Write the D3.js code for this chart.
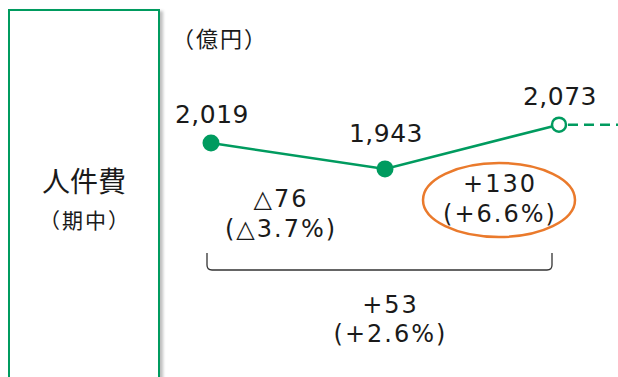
<!DOCTYPE html>
<html lang="ja">
<head>
<meta charset="utf-8">
<script src="https://cdn.jsdelivr.net/npm/d3@7"></script>
<style>
  html, body { margin: 0; padding: 0; background: #fff; }
  svg { display: block; }
  .num { font-family: "DejaVu Sans", sans-serif; fill: #1a1a1a; }
  .jp { font-family: "Noto Sans CJK JP", sans-serif; fill: #1a1a1a; }
</style>
</head>
<body>
<svg id="chart" width="618" height="377"></svg>
<script>
// Personnel expenses (100 million yen), three periods; last one is a plan value
const periods = ["期1", "期2", "期3", "期4"];
const values = [2019, 1943, 2073];
const valueLabels = ["2,019", "1,943", "2,073"];
const projected = [false, false, true];
// change between consecutive periods and over the whole span
const stepChanges = [
  { from: 0, to: 1, lines: ["△76", "(△3.7%)"], circled: false },
  { from: 1, to: 2, lines: ["+130", "(+6.6%)"], circled: true }
];
const totalChange = { from: 0, to: 2, lines: ["+53", "(+2.6%)"] };

const green = "#009b5f";
const orange = "#ea7a2c";

const svg = d3.select("#chart");

// side panel with title
const defs = svg.append("defs");
const f = defs.append("filter").attr("id", "shadow")
  .attr("x", "-10%").attr("y", "-10%").attr("width", "130%").attr("height", "130%");
f.append("feDropShadow").attr("dx", 3).attr("dy", 2).attr("stdDeviation", 1.6)
  .attr("flood-color", "#000").attr("flood-opacity", 0.25);

svg.append("rect")
  .attr("x", 9).attr("y", 10).attr("width", 150).attr("height", 380)
  .attr("fill", "#fff").attr("stroke", green).attr("stroke-width", 2)
  .attr("filter", "url(#shadow)");

svg.append("text").attr("class", "jp")
  .attr("x", 84).attr("y", 192).attr("text-anchor", "middle")
  .style("font-size", "28px").text("人件費");
svg.append("text").attr("class", "jp")
  .attr("x", 85).attr("y", 228).attr("text-anchor", "middle")
  .attr("letter-spacing", 2)
  .style("font-size", "21px").text("（期中）");

svg.append("text").attr("class", "jp")
  .attr("x", 172).attr("y", 47)
  .attr("letter-spacing", 2)
  .style("font-size", "22px").text("（億円）");

// scales
const x = d3.scalePoint().domain(periods).range([211, 733]);
const y = d3.scaleLinear().domain([1900, 2100]).range([183.5, 115.5]);

const pts = values.map((v, i) => ({ i, p: periods[i], v, label: valueLabels[i], proj: projected[i] }));

// actual line
const line = d3.line().x(d => x(d.p)).y(d => y(d.v));
svg.append("path").datum(pts)
  .attr("d", line).attr("fill", "none")
  .attr("stroke", green).attr("stroke-width", 2.5);

// projection continues to the right as dashes
const last = pts[pts.length - 1];
svg.append("path")
  .datum([last, { p: periods[3], v: last.v }])
  .attr("d", line).attr("fill", "none")
  .attr("stroke", green).attr("stroke-width", 2.5)
  .attr("stroke-dasharray", "10,6").attr("stroke-dashoffset", -9);

svg.selectAll("circle.pt").data(pts).join("circle")
  .attr("class", "pt")
  .attr("cx", d => x(d.p)).attr("cy", d => y(d.v))
  .attr("r", d => d.proj ? 7 : 8.5)
  .attr("fill", d => d.proj ? "#fff" : green)
  .attr("stroke", green).attr("stroke-width", d => d.proj ? 2.5 : 0);

// a local low gets its label lifted a little more so it clears both segments
const isLow = d => d.i > 0 && d.i < values.length - 1 &&
  d.v < values[d.i - 1] && d.v < values[d.i + 1];

svg.selectAll("text.val").data(pts).join("text")
  .attr("class", "val num")
  .attr("x", d => x(d.p) + 1)
  .attr("y", d => y(d.v) - (isLow(d) ? 27 : 20))
  .attr("text-anchor", "middle")
  .attr("letter-spacing", 0.5)
  .style("font-size", "25px")
  .text(d => d.label);

// step change annotations
stepChanges.forEach(c => {
  const cx = (x(periods[c.from]) + x(periods[c.to])) / 2 + (c.circled ? 27 : -18);
  const g = svg.append("g");
  if (c.circled) {
    g.append("ellipse")
      .attr("cx", cx).attr("cy", 200).attr("rx", 76).attr("ry", 37)
      .attr("fill", "none").attr("stroke", orange).attr("stroke-width", 2.5);
  }
  const t = g.append("text").attr("class", "num")
    .attr("text-anchor", "middle").attr("letter-spacing", 2)
    .style("font-size", "24px");
  c.lines.forEach((s, k) => {
    t.append("tspan").attr("x", cx + 1).attr("y", (c.circled ? 192 : 207) + k * 30).text(s);
  });
});

// brace spanning the whole period
const bx0 = x(periods[totalChange.from]) - 4;
const bx1 = x(periods[totalChange.to]) - 7;
const by0 = 253, by1 = 270, r = 5;
svg.append("path")
  .attr("d", `M${bx0},${by0} L${bx0},${by1 - r} Q${bx0},${by1} ${bx0 + r},${by1} L${bx1 - r},${by1} Q${bx1},${by1} ${bx1},${by1 - r} L${bx1},${by0}`)
  .attr("fill", "none").attr("stroke", "#333").attr("stroke-width", 1.3);

const tt = svg.append("text").attr("class", "num")
  .attr("text-anchor", "middle").attr("letter-spacing", 2)
  .style("font-size", "24px");
totalChange.lines.forEach((s, k) => {
  tt.append("tspan").attr("x", (bx0 + bx1) / 2 + 11).attr("y", 313 + k * 29).text(s);
});
</script>
</body>
</html>
